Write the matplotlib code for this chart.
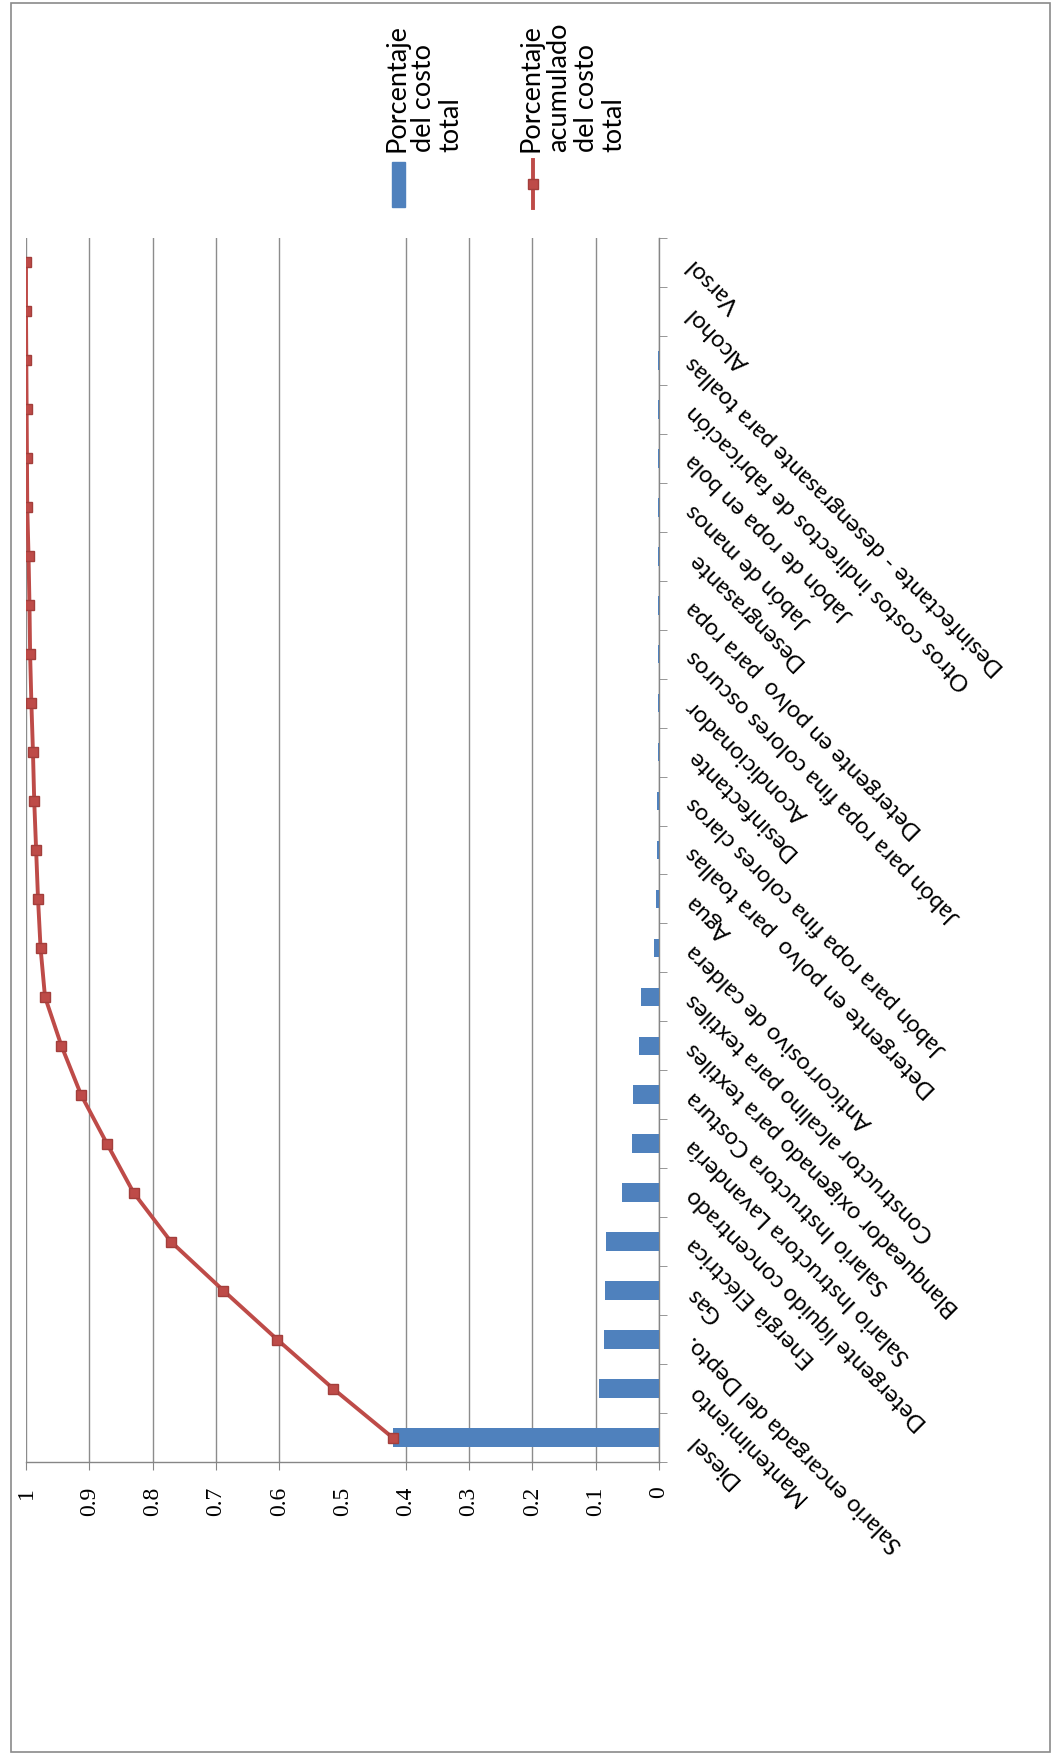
import numpy as np
import matplotlib
matplotlib.use("Agg")
import matplotlib.pyplot as plt
from matplotlib.patches import Rectangle
from matplotlib.lines import Line2D

plt.rcParams['font.family'] = ['Lato', 'DejaVu Sans']

# datos (diagrama de Pareto, girado)
categorias = [
    'Diesel', 'Mantenimiento', 'Salario encargada del Depto.', 'Gas',
    'Energía Eléctrica', 'Detergente líquido concentrado',
    'Salario Instructora Lavandería', 'Salario Instructora Costura',
    'Blanqueador oxigenado para textiles', 'Constructor alcalino para textiles',
    'Anticorrosivo de caldera', 'Agua', 'Detergente en polvo  para toallas',
    'Jabón para ropa fina colores claros', 'Desinfectante', 'Acondicionador',
    'Jabón para ropa fina colores oscuros', 'Detergente en polvo  para ropa',
    'Desengrasante', 'Jabón de manos', 'Jabón de ropa en bola',
    'Otros costos indirectos de fabricación',
    'Desinfectante - desengrasante para toallas', 'Alcohol', 'Varsol',
]
porcentaje = [0.421, 0.095, 0.087, 0.085, 0.084, 0.059, 0.042, 0.041, 0.031,
              0.028, 0.0075, 0.0053, 0.003, 0.0025, 0.0022, 0.002, 0.002,
              0.002, 0.0015, 0.0015, 0.001, 0.001, 0.0008, 0.0005, 0.0003]
acumulado = [0.421, 0.515, 0.603, 0.688, 0.771, 0.830, 0.872, 0.913, 0.944,
             0.970, 0.977, 0.981, 0.984, 0.987, 0.989, 0.9915, 0.9935, 0.9945,
             0.996, 0.998, 0.9985, 0.999, 0.9995, 1.0, 1.0]
valores_eje = [0, 0.1, 0.2, 0.3, 0.4, 0.5, 0.6, 0.7, 0.8, 0.9, 1]
etiquetas_eje = ['0', '0.1', '0.2', '0.3', '0.4', '0.5', '0.6', '0.7', '0.8', '0.9', '1']
leyenda = ['Porcentaje\ndel costo\ntotal', 'Porcentaje\nacumulado\ndel costo\ntotal']

AZUL = '#4F81BD'
ROJO = '#BE4B48'
GRIS = '#868686'

W, H = 1053, 1755


def fx(px):
    return px / W


def fy(py):
    return 1 - py / H


fig = plt.figure(figsize=(W / 100, H / 100), dpi=100)
ax = fig.add_axes([fx(26), fy(1462), (659 - 26) / W, (1462 - 238) / H])

idx = np.arange(len(categorias))
ax.barh(idx, porcentaje, height=0.38, color=AZUL, zorder=3)
ax.plot(acumulado, idx, color=ROJO, lw=2.8, marker='s', ms=6.5,
        mfc=ROJO, mec='#A33E3B', zorder=4)

ax.set_xlim(1, 0)
ax.set_ylim(-0.5, len(categorias) - 0.5)

# eje de valores (abajo, texto girado)
ax.set_xticks(valores_eje, labels=etiquetas_eje)
ax.tick_params(axis='x', direction='out', length=5.8, color=GRIS, pad=12,
               labelrotation=90, labelsize=17)
for t in ax.get_xticklabels():
    t.set_family('Liberation Serif')
ax.xaxis.grid(True, color='#8C8C8C', lw=1)
ax.set_axisbelow(True)
# la linea de 0.5 no aparece en el original
ax.get_xgridlines()[5].set_visible(False)
ax.xaxis.get_major_ticks()[5].tick1line.set_visible(False)

# eje de categorias (derecha)
ax.yaxis.tick_right()
ax.set_yticks(idx, labels=categorias)
ax.set_yticks(np.arange(-0.5, len(categorias), 1), minor=True)
ax.tick_params(axis='y', which='major', length=0, pad=22, labelsize=17)
ax.tick_params(axis='y', which='minor', length=5.8, direction='out',
               color=GRIS, right=True, left=False)
for tk in ax.yaxis.get_major_ticks():
    lb = tk.label2
    lb.set_rotation(135)
    lb.set_rotation_mode('anchor')
    lb.set_ha('right')
    lb.set_va('center')

for s in ['top', 'left']:
    ax.spines[s].set_visible(False)
for s in ['bottom', 'right']:
    ax.spines[s].set_color(GRIS)
    ax.spines[s].set_linewidth(1)

# leyenda girada, arriba
fig.add_artist(Rectangle((fx(392), fy(207)), 13 / W, 45 / H, color=AZUL,
                         transform=fig.transFigure))
fig.add_artist(Line2D([fx(533), fx(533)], [fy(160), fy(208)], color=ROJO, lw=2.8,
                      transform=fig.transFigure))
fig.add_artist(Line2D([fx(533)], [fy(184)], color=ROJO, marker='s', ms=6.5,
                      mec='#A33E3B', transform=fig.transFigure))
fig.text(fx(384), fy(152), leyenda[0], rotation=90, rotation_mode='anchor',
         ha='left', va='top', fontsize=19.5, linespacing=1.12)
fig.text(fx(519), fy(152), leyenda[1], rotation=90, rotation_mode='anchor',
         ha='left', va='top', fontsize=19.5, linespacing=1.12)

# marco exterior
fig.add_artist(Rectangle((fx(11), fy(1752)), (1050 - 11) / W, (1752 - 3) / H,
                         fill=False, ec='#8A8A8A', lw=1.2, transform=fig.transFigure))

fig.savefig('out.png', dpi=100)
